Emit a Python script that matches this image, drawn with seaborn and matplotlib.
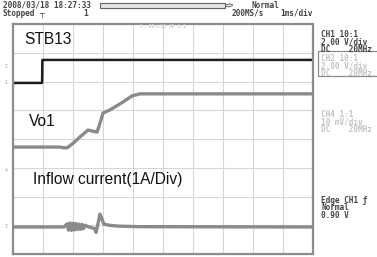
import matplotlib
matplotlib.use("Agg")
import matplotlib.pyplot as plt
import seaborn as sns
import pandas as pd
from matplotlib.patches import Rectangle

# screen is 10 x 8 divisions, values in divisions from the bottom-left corner
stb_t = [0.0, 0.97, 0.98, 10.0]
stb_v = [5.95, 5.95, 6.75, 6.75]

vo1_t = [0.0, 1.55, 1.67, 1.8, 2.0, 2.23, 2.5, 2.8, 2.9, 3.0, 3.23, 3.5, 3.67, 3.97, 4.23, 10.0]
vo1_v = [3.72, 3.72, 3.70, 3.69, 3.85, 4.07, 4.31, 4.24, 4.55, 4.90, 5.01, 5.18, 5.29, 5.50, 5.57, 5.57]

cur_t = [0.0, 1.7, 1.8, 1.85, 1.9, 1.95, 2.0, 2.05, 2.1, 2.15, 2.2, 2.25, 2.3, 2.35, 2.4,
         2.5, 2.6, 2.72, 2.77, 2.9, 3.03, 3.2, 3.5, 4.2, 10.0]
cur_v = [0.94, 0.94, 1.05, 0.83, 1.08, 0.82, 1.07, 0.84, 1.06, 0.85, 1.04, 0.86, 1.03, 0.88, 1.0,
         0.95, 0.92, 0.88, 0.75, 1.39, 1.04, 1.0, 0.97, 0.95, 0.94]

stb = pd.DataFrame({"t": stb_t, "v": stb_v})
vo1 = pd.DataFrame({"t": vo1_t, "v": vo1_v})
cur = pd.DataFrame({"t": cur_t, "v": cur_v})

sns.set_style("white")
W, H = 377, 257
fig = plt.figure(figsize=(W / 100, H / 100), dpi=100)
ax = fig.add_axes([13 / W, 3 / H, 300 / W, 230 / H])

sns.lineplot(data=cur, x="t", y="v", ax=ax, color="#8a8a8a", lw=2.4, estimator=None, sort=False)
sns.lineplot(data=vo1, x="t", y="v", ax=ax, color="#8a8a8a", lw=2.4, estimator=None, sort=False)
sns.lineplot(data=stb, x="t", y="v", ax=ax, color="#1e1e1e", lw=1.8, estimator=None, sort=False)

ax.set_xlim(0, 10)
ax.set_ylim(0, 8)
ax.set_xticks(range(11))
ax.set_yticks(range(9))
ax.grid(True, color="#d6d6d6", lw=0.8)
ax.set_axisbelow(True)
ax.tick_params(length=0, labelbottom=False, labelleft=False)
ax.set_xlabel("")
ax.set_ylabel("")
for s in ax.spines.values():
    s.set_color("#8c8c8c")
    s.set_linewidth(1.6)

lab = dict(family="Liberation Sans", fontsize=11.2, color="#111111", transform=ax.transData)
ax.text(0.37, 7.45, "STB13", va="center", **lab)
ax.text(0.53, 4.6, "Vo1", va="center", **lab)
ax.text(0.68, 2.6, "Inflow current(1A/Div)", va="center", **lab)


def ftxt(x, y, s, color="#444444", size=5.6, va="center", **kw):
    fig.text(x / W, 1 - y / H, s, family="DejaVu Sans Mono", fontsize=size,
             color=color, va=va, ha="left", fontweight="bold", **kw)


# header
ftxt(3, 5, "2008/03/18 18:27:33")
ftxt(3, 13, "Stopped")
ftxt(39, 13, "┬")
ftxt(83, 13, "1")
fig.patches.append(Rectangle((100 / W, 1 - 8 / H), 125 / W, 5 / H, transform=fig.transFigure,
                             fill=True, facecolor="#e4e4e4", edgecolor="#666666", lw=0.8))
ftxt(225, 5, "=>", color="#666666")
ftxt(252, 5, "Normal")
ftxt(232, 13, "200MS/s")
ftxt(280, 13, "1ms/div")
ftxt(140, 27, "1: RG-L12 SP 1:1", color="#d0d0d0", size=3.5)

# right panel, one block per channel
ls = 0.76
ftxt(321, 30, "CH1 10:1\n2.00 V/div\nDC    20MHz", va="top", linespacing=ls)
fig.patches.append(Rectangle((318 / W, 1 - 76 / H), 62 / W, 25 / H, transform=fig.transFigure,
                             fill=False, edgecolor="#8c8c8c", lw=0.9))
ftxt(321, 54, "CH2 10:1\n2.00 V/div\nDC    20MHz", color="#c4c4c4", va="top", linespacing=ls)
ftxt(321, 110, "CH4 1:1\n10 mV/div\nDC    20MHz", color="#c4c4c4", va="top", linespacing=ls)
ftxt(321, 196, "Edge CH1 ƒ\nNormal\n0.90 V", va="top", linespacing=ls)

# channel ground markers on the left edge
for yy, s in [(67, "2"), (83, "1"), (170, "4"), (227, "3")]:
    ftxt(5, yy, s, color="#bdbdbd", size=3.5)

fig.savefig("out.png", dpi=100)
